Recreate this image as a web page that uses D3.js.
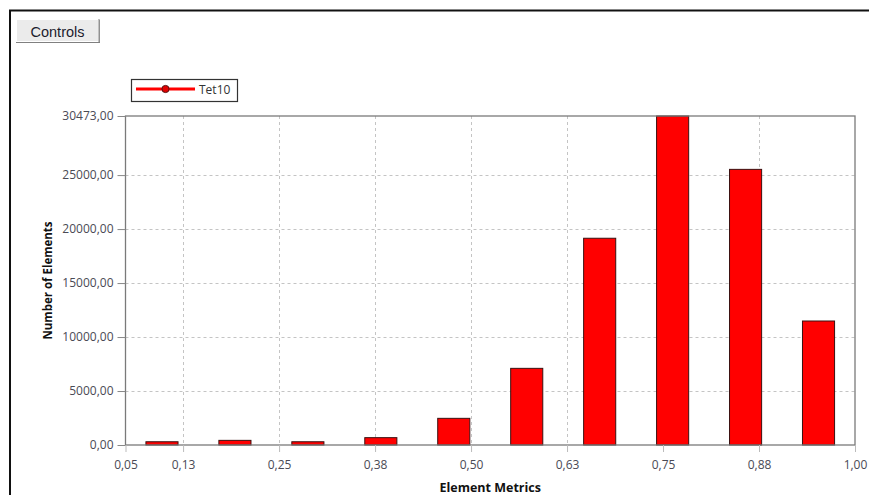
<!DOCTYPE html>
<html><head><meta charset="utf-8">
<script src="https://cdn.jsdelivr.net/npm/d3@7"></script>
<style>
html,body{margin:0;padding:0;background:#fff;}
svg{display:block;}
</style></head>
<body>
<svg id="c" width="869" height="495"></svg>
<script>
const seriesName = "Tet10";
const binLow = [0.05, 0.145, 0.24, 0.335, 0.43, 0.525, 0.62, 0.715, 0.81, 0.905];
const binHigh = [0.145, 0.24, 0.335, 0.43, 0.525, 0.62, 0.715, 0.81, 0.905, 1.0];
const counts = [300, 430, 300, 680, 2470, 7100, 19150, 30473, 25530, 11485];
const xTicks = [0.05, 0.125, 0.25, 0.375, 0.5, 0.625, 0.75, 0.875, 1.0];
const xTickLabels = ["0,05", "0,13", "0,25", "0,38", "0,50", "0,63", "0,75", "0,88", "1,00"];
const yTicks = [0, 5000, 10000, 15000, 20000, 25000, 30473];
const yTickLabels = ["0,00", "5000,00", "10000,00", "15000,00", "20000,00", "25000,00", "30473,00"];
const xTitle = "Element Metrics";
const yTitle = "Number of Elements";

const svg = d3.select("#c");
const L = 125.5, R = 855, T = 116, B = 445;
const x = d3.scaleLinear().domain([0.05, 1.0]).range([L, R]);
const y = d3.scaleLinear().domain([0, 30473]).range([B, T]);
const font = "'Open Sans', 'Noto Sans', sans-serif";

// outer frame
svg.append("path").attr("d", "M10,500 L10,10.5 L880,10.5").attr("fill", "none").attr("stroke", "#111").attr("stroke-width", 2);

// Controls button
const btn = svg.append("g");
btn.append("rect").attr("x", 17).attr("y", 20).attr("width", 83).attr("height", 23).attr("fill", "#a0a0a0");
btn.append("rect").attr("x", 16).attr("y", 19).attr("width", 83).attr("height", 23).attr("fill", "#fff");
btn.append("rect").attr("x", 17).attr("y", 20).attr("width", 81).attr("height", 21).attr("fill", "#ebebeb");
btn.append("line").attr("x1", 99).attr("x2", 99).attr("y1", 19).attr("y2", 43).attr("stroke", "#808080");
btn.append("line").attr("x1", 16).attr("x2", 100).attr("y1", 42.5).attr("y2", 42.5).attr("stroke", "#808080");
btn.append("text").attr("x", 57.5).attr("y", 37).attr("text-anchor", "middle")
  .attr("font-family", "'Liberation Sans', Arial, sans-serif").attr("font-size", 14.5).attr("fill", "#1c1c2e").text("Controls");

// legend
const lg = svg.append("g");
lg.append("rect").attr("x", 131.5).attr("y", 79.5).attr("width", 106).attr("height", 22).attr("fill", "#fff").attr("stroke", "#333").attr("stroke-width", 1.2);
lg.append("line").attr("x1", 136).attr("x2", 195).attr("y1", 89).attr("y2", 89).attr("stroke", "#ff0000").attr("stroke-width", 3);
lg.append("circle").attr("cx", 165.5).attr("cy", 89).attr("r", 3.6).attr("fill", "#e00000").attr("stroke", "#551111").attr("stroke-width", 1);
lg.append("text").attr("x", 199).attr("y", 93.5).attr("font-family", font).attr("font-size", 12).attr("fill", "#333").text(seriesName);

// gridlines
const grid = svg.append("g").attr("stroke", "#c4c4c4").attr("stroke-dasharray", "3,3").attr("stroke-width", 1);
yTicks.slice(1, -1).forEach(v => {
  grid.append("line").attr("x1", L).attr("x2", R).attr("y1", Math.round(y(v)) + 0.5).attr("y2", Math.round(y(v)) + 0.5);
});
xTicks.slice(1, -1).forEach(v => {
  grid.append("line").attr("x1", Math.round(x(v)) + 0.5).attr("x2", Math.round(x(v)) + 0.5).attr("y1", T).attr("y2", B);
});

// bars
const barFrac = 0.44;
svg.append("g").selectAll("rect").data(counts).join("rect")
  .attr("x", (d, i) => { const c = x((binLow[i] + binHigh[i]) / 2); const w = (x(binHigh[i]) - x(binLow[i])) * barFrac; return c - w / 2; })
  .attr("width", (d, i) => (x(binHigh[i]) - x(binLow[i])) * barFrac)
  .attr("y", d => y(d))
  .attr("height", d => B - y(d))
  .attr("fill", "#ff0000").attr("stroke", "#3a1010").attr("stroke-width", 1);

// plot border
svg.append("rect").attr("x", L).attr("y", T).attr("width", R - L).attr("height", B - T)
  .attr("fill", "none").attr("stroke", "#7a7a7a").attr("stroke-width", 1.3);

// axes
const yAxis = d3.axisLeft(y).tickValues(yTicks).tickFormat((d, i) => yTickLabels[i]).tickSize(8).tickPadding(4);
const gy = svg.append("g").attr("transform", `translate(${L},0)`).call(yAxis);
gy.select(".domain").remove();
gy.selectAll(".tick line").attr("stroke", "#888");
gy.selectAll("text").attr("font-family", font).attr("font-size", 12).attr("fill", "#4a4a55");

const xAxis = d3.axisBottom(x).tickValues(xTicks).tickFormat((d, i) => xTickLabels[i]).tickSize(7).tickPadding(8);
const gx = svg.append("g").attr("transform", `translate(0,${B})`).call(xAxis);
gx.select(".domain").remove();
gx.selectAll(".tick line").attr("stroke", "#bbb");
gx.selectAll("text").attr("font-family", font).attr("font-size", 12).attr("fill", "#4a4a55");

// titles
svg.append("text").attr("x", (L + R) / 2).attr("y", 492).attr("text-anchor", "middle")
  .attr("font-family", font).attr("font-size", 12.5).attr("font-weight", "bold").attr("fill", "#111").text(xTitle);
svg.append("text").attr("transform", `translate(52,${(T + B) / 2}) rotate(-90)`).attr("text-anchor", "middle")
  .attr("font-family", font).attr("font-size", 11.5).attr("font-weight", "bold").attr("fill", "#111").text(yTitle);
</script>
</body></html>
